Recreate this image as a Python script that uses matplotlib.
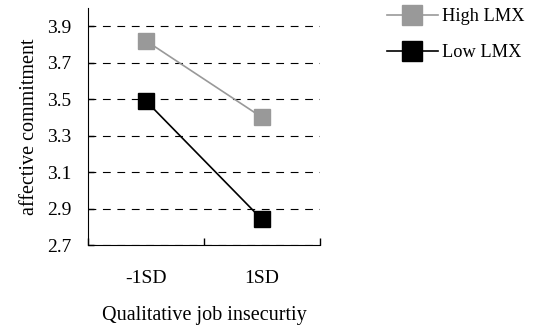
import matplotlib
matplotlib.use("Agg")
import matplotlib.pyplot as plt
from matplotlib.ticker import FixedLocator

plt.rcParams["font.family"] = ["Liberation Serif", "DejaVu Serif"]

categories = ["-1SD", "1SD"]
high_lmx = [3.82, 3.40]
low_lmx = [3.49, 2.84]
yticks = [2.7, 2.9, 3.1, 3.3, 3.5, 3.7, 3.9]

fig = plt.figure(figsize=(5.39, 3.31), dpi=100)
ax = fig.add_axes([88/539, 1 - 245/331, 232/539, 237/331])

xpos = [0.5, 1.5]
ax.plot(xpos, high_lmx, color="#999999", lw=1.2, marker="s", ms=11,
        mfc="#999999", mec="#999999", label="High LMX")
ax.plot(xpos, low_lmx, color="black", lw=1.2, marker="s", ms=11,
        mfc="black", mec="black", label="Low LMX")

ax.set_xlim(0, 2)
ax.set_ylim(2.7, 4.0)
ax.set_yticks(yticks)
ax.set_yticklabels([f"{v:.1f}" for v in yticks], fontsize=14)
ax.set_xticks(xpos)
ax.set_xticklabels(categories, fontsize=14)
ax.xaxis.set_minor_locator(FixedLocator([0, 1, 2]))
ax.tick_params(axis="x", which="major", length=0, pad=18)
ax.tick_params(axis="x", which="minor", direction="in", length=5, width=1)
ax.tick_params(axis="y", direction="in", length=4, width=1, pad=12)
ax.yaxis.grid(True, color="black", ls=(0, (7, 6)), lw=0.8)
ax.set_axisbelow(True)
for s in ["top", "right"]:
    ax.spines[s].set_visible(False)

ax.set_ylabel("affective commitment", fontsize=14.5, labelpad=6)
ax.set_xlabel("Qualitative job insecurtiy", fontsize=14.5, labelpad=14)

leg = fig.legend(loc="upper left", bbox_to_anchor=(370/539, 1.025), frameon=False,
                 fontsize=13.2, handlelength=2.8, markerscale=1.25,
                 labelspacing=1.05, handletextpad=0.2)

fig.savefig("out.png", dpi=100)
